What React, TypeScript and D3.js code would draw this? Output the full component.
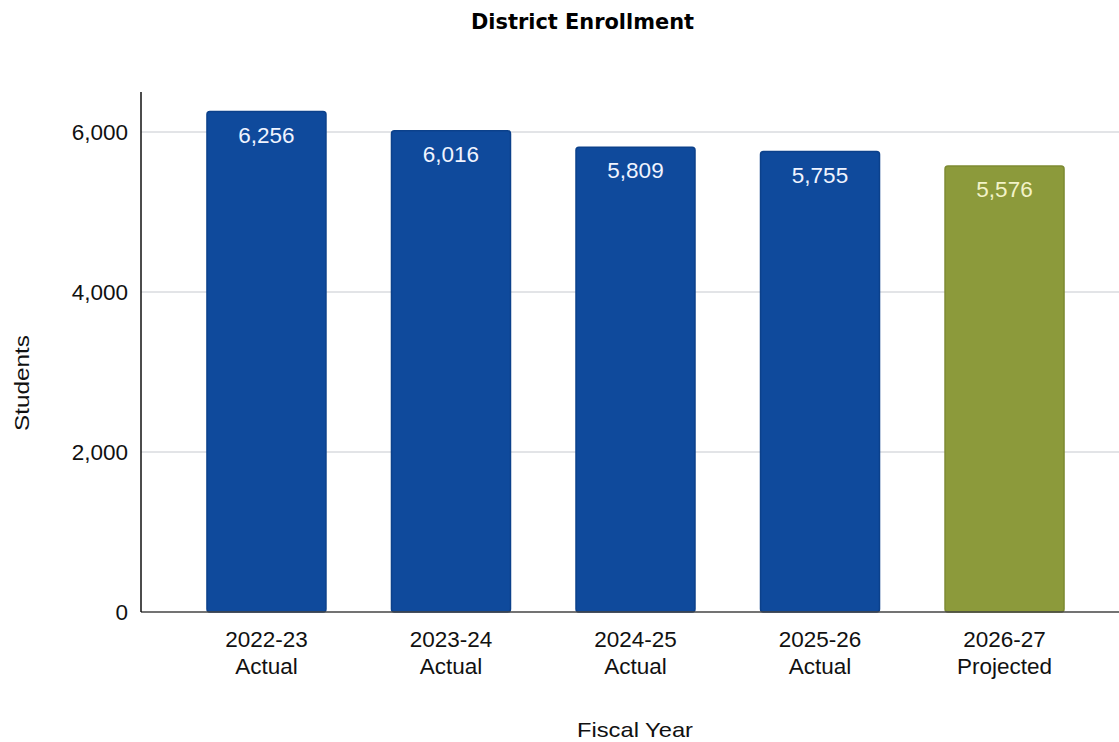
import React from "react";
import * as d3 from "d3";

const years = ["2022-23", "2023-24", "2024-25", "2025-26", "2026-27"];
const kinds = ["Actual", "Actual", "Actual", "Actual", "Projected"];
const students = [6256, 6016, 5809, 5755, 5576];
const yTicks = [0, 2000, 4000, 6000];

const W = 1119;
const H = 742;
const L = 141;
const T = 92;
const B = 612;

export default function App() {
  const x = d3
    .scaleBand<number>()
    .domain(d3.range(years.length))
    .range([L, 1130])
    .paddingInner(0.355)
    .paddingOuter(0.3575);
  const y = d3.scaleLinear().domain([0, 6500]).range([B, T]);
  const fmt = d3.format(",");
  const font = "'Liberation Sans', Arial, sans-serif";

  return (
    <svg width={W} height={H} style={{ position: "absolute", left: 0, top: 0, background: "#fff" }}>
      <text
        x={582.5}
        y={29}
        textAnchor="middle"
        fontFamily="'DejaVu Sans', sans-serif"
        fontWeight="bold"
        fontSize={22}
        textLength={223}
        lengthAdjust="spacingAndGlyphs"
        fill="#000"
      >
        District Enrollment
      </text>
      {yTicks.map((t) => (
        <g key={t}>
          {t > 0 && <line x1={L} x2={W} y1={y(t)} y2={y(t)} stroke="#c6c9cf" strokeWidth={1} />}
          <text x={128} y={y(t)} dy="0.36em" textAnchor="end" fontFamily={font} fontSize={22.5} fill="#111">
            {fmt(t)}
          </text>
        </g>
      ))}
      {students.map((v, i) => {
        const proj = kinds[i] === "Projected";
        const bx = x(i)!;
        const bw = x.bandwidth();
        return (
          <g key={i}>
            <rect
              x={bx}
              y={y(v)}
              width={bw}
              height={B - y(v)}
              rx={3}
              fill={proj ? "#8c9a3b" : "#0f4a9c"}
              stroke={proj ? "#7d8a32" : "#0c418b"}
              strokeWidth={1.5}
            />
            <text
              x={bx + bw / 2}
              y={y(v) + 31}
              textAnchor="middle"
              fontFamily={font}
              fontSize={22.5}
              fill={proj ? "#f3f3c8" : "#f0f4ff"}
            >
              {fmt(v)}
            </text>
            <text x={bx + bw / 2} y={647} textAnchor="middle" fontFamily={font} fontSize={22.5} fill="#111">
              {years[i]}
            </text>
            <text x={bx + bw / 2} y={674} textAnchor="middle" fontFamily={font} fontSize={22.5} fill="#111">
              {kinds[i]}
            </text>
          </g>
        );
      })}
      <line x1={L} x2={W} y1={B} y2={B} stroke="#444" strokeWidth={1.5} />
      <line x1={L} x2={L} y1={T} y2={B} stroke="#111" strokeWidth={1.5} />
      <text
        x={635}
        y={737}
        textAnchor="middle"
        fontFamily={font}
        fontSize={21}
        textLength={116}
        lengthAdjust="spacingAndGlyphs"
        fill="#111"
      >
        Fiscal Year
      </text>
      <text
        transform={`translate(29,${383}) rotate(-90)`}
        textAnchor="middle"
        fontFamily={font}
        fontSize={21}
        textLength={96}
        lengthAdjust="spacingAndGlyphs"
        fill="#111"
      >
        Students
      </text>
    </svg>
  );
}
